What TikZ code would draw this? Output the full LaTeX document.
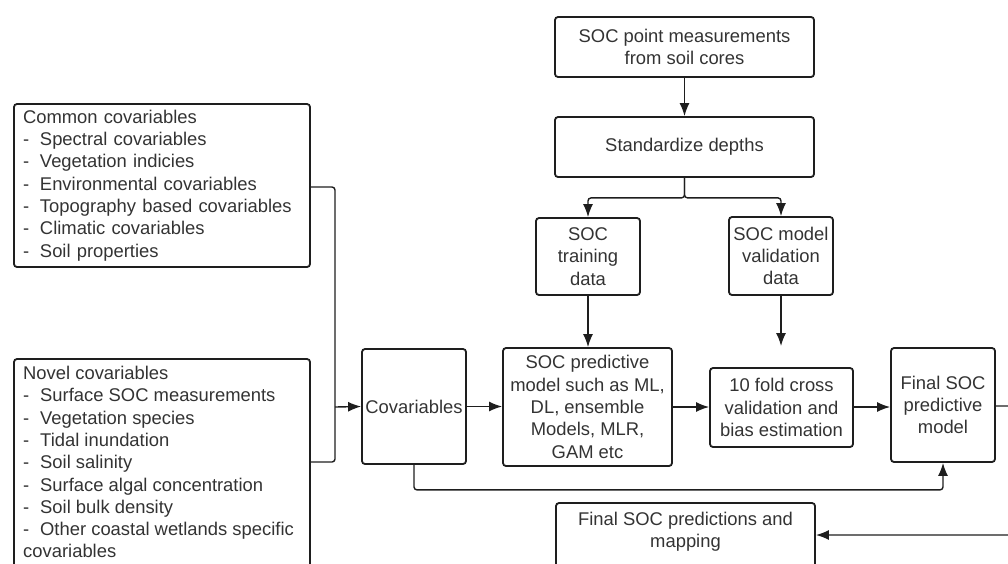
\documentclass[tikz,border=0pt]{standalone}
\usepackage{fontspec}
\setmainfont{Liberation Sans}
\usetikzlibrary{arrows.meta,calc}
\definecolor{txt}{HTML}{333333}
\definecolor{linec}{HTML}{1E1E1E}
\newcommand\myfs{\fontsize{18.4pt}{22.3pt}\selectfont}
\newcommand\dl{\makebox[17pt][l]{-}}
\begin{document}
\begin{tikzpicture}[x=1pt,y=-1pt,
  box/.style={draw=linec, line width=1.8pt, rounded corners=3pt, text=txt, align=center, inner sep=0pt, font=\myfs},
  plain/.style={text=txt, inner sep=0pt, font=\myfs},
  conn/.style={draw=linec, line width=1.4pt, rounded corners=3pt},
  arr/.style={conn, -{Latex[length=13pt,width=10pt]}}]
\useasboundingbox (0,0) rectangle (1008,563);
\clip (0,0) rectangle (1008,563);
% boxes
\node[box, minimum width=259pt, minimum height=60pt] (point) at (684.5,47) {SOC point measurements\\from soil cores};
\node[box, minimum width=259pt, minimum height=60pt] (std) at (684.5,147) {Standardize depths};
\node[box, minimum width=104pt, minimum height=77pt] (train) at (588,256.5) {SOC\\training\\data};
\node[box, minimum width=104pt, minimum height=78pt] (valid) at (781,256) {SOC model\\validation\\data};
\node[box, minimum width=104pt, minimum height=115pt] (cov) at (414,406.5) {Covariables};
\node[box, minimum width=169pt, minimum height=118pt] (pred) at (587.5,407) {SOC predictive\\model such as ML,\\DL, ensemble\\Models, MLR,\\GAM etc};
\node[box, minimum width=143pt, minimum height=79pt] (cv) at (781.5,407.5) {10 fold cross\\validation and\\bias estimation};
\node[box, minimum width=104pt, minimum height=114pt] (final) at (943,405) {Final SOC\\predictive\\model};
\node[box, align=left, text width=278pt, inner xsep=9pt, minimum height=163pt] (common) at (162,185.5)
  {Common covariables\\\dl Spectral covariables\\\dl Vegetation indicies\\\dl Environmental covariables\\\dl Topography based covariables\\\dl Climatic covariables\\\dl Soil properties};
\node[box, minimum width=296pt, minimum height=240pt] (novel) at (162,479) {};
\node[plain, align=left, anchor=north west] (noveltxt) at (23,366)
  {Novel covariables\\\dl Surface SOC measurements\\\dl Vegetation species\\\dl Tidal inundation\\\dl Soil salinity\\\dl Surface algal concentration\\\dl Soil bulk density\\\dl Other coastal wetlands specific\\covariables};
\node[box, minimum width=259pt, minimum height=120pt] (maps) at (685.5,563) {};
\node[plain, align=center] (mapstxt) at (685.5,531.5) {Final SOC predictions and\\mapping};
% coordinates
\coordinate (bj) at (335,407);
\coordinate (vend) at (781,346);
\coordinate (rc) at (1014,406);
% connectors
\draw[arr] (point) -- (std);
\draw[arr] (std.south) -- ++(0,20) -| (train.north);
\draw[arr] (std.south) -- ++(0,20) -| (valid.north);
\draw[arr] (train.south) -- (train.south |- pred.north);
\draw[arr] (valid.south) -- (vend);
\draw[conn] (common.east |- 0,187) -| (bj) |- (novel.north east |- 0,462);
\draw[arr] (bj) -- (cov.west);
\draw[arr] (cov.east) -- (pred.west |- cov.east);
\draw[arr] (pred.east) -- (cv.west |- pred.east);
\draw[arr] (cv.east |- 0,407) -- (final.west |- 0,407);
\draw[arr] (cov.south) -- ++(0,25) -| (final.south);
\draw[arr] (final.east |- rc) -- (rc) |- (maps.east |- 0,535);
\end{tikzpicture}
\end{document}
